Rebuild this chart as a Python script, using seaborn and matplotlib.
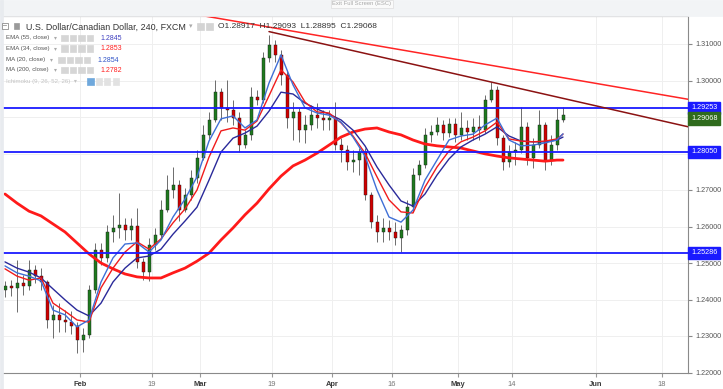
import numpy as np
import pandas as pd
import matplotlib
matplotlib.use("Agg")
import matplotlib.pyplot as plt
from matplotlib.patches import Rectangle
import seaborn as sns

# USD/CAD, trading days Jan 15 - May 24 2018 (one candle per day)
dates = pd.bdate_range("2018-01-15", "2018-05-24")

open_ = [1.2426, 1.2437, 1.2432, 1.2445, 1.2437, 1.2481, 1.2464, 1.2448, 1.2344, 1.2358,
         1.2344, 1.2338, 1.2327, 1.2289, 1.2303, 1.2426, 1.2536, 1.2514, 1.2585, 1.2596,
         1.2604, 1.2590, 1.2601, 1.2503, 1.2475, 1.2549, 1.2577, 1.2645, 1.2700, 1.2714,
         1.2645, 1.2686, 1.2733, 1.2788, 1.2851, 1.2892, 1.2968, 1.2925, 1.2919, 1.2897,
         1.2823, 1.2851, 1.2955, 1.2947, 1.3062, 1.3097, 1.3070, 1.3015, 1.2897, 1.2914,
         1.2864, 1.2878, 1.2905, 1.2897, 1.2892, 1.2897, 1.2823, 1.2810, 1.2777, 1.2782,
         1.2804, 1.2686, 1.2612, 1.2585, 1.2596, 1.2585, 1.2568, 1.2590, 1.2653, 1.2741,
         1.2768, 1.2851, 1.2859, 1.2878, 1.2856, 1.2881, 1.2851, 1.2870, 1.2859, 1.2873,
         1.2864, 1.2947, 1.2974, 1.2842, 1.2777, 1.2804, 1.2810, 1.2873, 1.2788, 1.2823,
         1.2878, 1.2782, 1.2823, 1.2892]
high = [1.2451, 1.2453, 1.2508, 1.2467, 1.2508, 1.2495, 1.2486, 1.2453, 1.2385, 1.2390,
        1.2371, 1.2368, 1.2338, 1.2322, 1.2440, 1.2555, 1.2555, 1.2604, 1.2632, 1.2692,
        1.2623, 1.2623, 1.2651, 1.2514, 1.2568, 1.2596, 1.2673, 1.2741, 1.2763, 1.2727,
        1.2705, 1.2755, 1.2810, 1.2878, 1.2914, 1.3001, 1.2979, 1.3001, 1.2947, 1.2914,
        1.2864, 1.2982, 1.2974, 1.3078, 1.3125, 1.3111, 1.3084, 1.3029, 1.2941, 1.2925,
        1.2905, 1.2933, 1.2938, 1.2919, 1.2919, 1.2941, 1.2842, 1.2823, 1.2810, 1.2815,
        1.2815, 1.2695, 1.2632, 1.2623, 1.2618, 1.2612, 1.2604, 1.2673, 1.2760, 1.2782,
        1.2870, 1.2878, 1.2900, 1.2892, 1.2897, 1.2897, 1.2914, 1.2892, 1.2897, 1.2905,
        1.2960, 1.2996, 1.2985, 1.2851, 1.2823, 1.2832, 1.2927, 1.2886, 1.2842, 1.2919,
        1.2886, 1.2851, 1.2925, 1.2927]
low = [1.2407, 1.2410, 1.2366, 1.2412, 1.2426, 1.2445, 1.2426, 1.2322, 1.2295, 1.2311,
       1.2311, 1.2305, 1.2253, 1.2256, 1.2295, 1.2418, 1.2495, 1.2503, 1.2558, 1.2568,
       1.2563, 1.2563, 1.2486, 1.2453, 1.2451, 1.2536, 1.2568, 1.2640, 1.2678, 1.2615,
       1.2640, 1.2673, 1.2719, 1.2782, 1.2837, 1.2886, 1.2892, 1.2886, 1.2878, 1.2804,
       1.2815, 1.2837, 1.2933, 1.2938, 1.3051, 1.3051, 1.2988, 1.2870, 1.2837, 1.2832,
       1.2829, 1.2864, 1.2870, 1.2864, 1.2864, 1.2810, 1.2777, 1.2755, 1.2749, 1.2741,
       1.2673, 1.2596, 1.2558, 1.2558, 1.2563, 1.2549, 1.2530, 1.2577, 1.2640, 1.2727,
       1.2760, 1.2832, 1.2851, 1.2837, 1.2845, 1.2832, 1.2837, 1.2837, 1.2837, 1.2837,
       1.2856, 1.2941, 1.2823, 1.2755, 1.2763, 1.2768, 1.2801, 1.2768, 1.2760, 1.2815,
       1.2755, 1.2768, 1.2810, 1.2886]
close = [1.2437, 1.2432, 1.2445, 1.2437, 1.2481, 1.2464, 1.2448, 1.2344, 1.2358, 1.2344,
         1.2338, 1.2327, 1.2289, 1.2303, 1.2426, 1.2536, 1.2514, 1.2585, 1.2596, 1.2604,
         1.2590, 1.2601, 1.2503, 1.2475, 1.2549, 1.2577, 1.2645, 1.2700, 1.2714, 1.2645,
         1.2686, 1.2733, 1.2788, 1.2851, 1.2892, 1.2968, 1.2925, 1.2919, 1.2897, 1.2823,
         1.2851, 1.2955, 1.2947, 1.3062, 1.3097, 1.3070, 1.3015, 1.2897, 1.2914, 1.2864,
         1.2878, 1.2905, 1.2897, 1.2892, 1.2897, 1.2823, 1.2810, 1.2777, 1.2782, 1.2804,
         1.2686, 1.2612, 1.2585, 1.2596, 1.2585, 1.2568, 1.2590, 1.2653, 1.2741, 1.2768,
         1.2851, 1.2859, 1.2878, 1.2856, 1.2881, 1.2851, 1.2870, 1.2859, 1.2873, 1.2864,
         1.2947, 1.2974, 1.2842, 1.2777, 1.2804, 1.2810, 1.2873, 1.2788, 1.2823, 1.2878,
         1.2782, 1.2823, 1.2892, 1.29068]

# indicator lines, read every second trading day plus the last one
ma_dates = dates[::2].append(dates[-1:])
ma20 = [1.2492, 1.2473, 1.2464, 1.2451, 1.2371, 1.2358, 1.2325, 1.2344, 1.2448, 1.2514,
        1.2552, 1.2555, 1.2530, 1.2563, 1.2626, 1.2675, 1.2736, 1.2834, 1.2895, 1.2903,
        1.2870, 1.2892, 1.2993, 1.3070, 1.2988, 1.2925, 1.2911, 1.2905, 1.2886, 1.2845,
        1.2793, 1.2700, 1.2626, 1.2612, 1.2645, 1.2727, 1.2782, 1.2837, 1.2848, 1.2853,
        1.2878, 1.2897, 1.2837, 1.2821, 1.2823, 1.2829, 1.2837, 1.2854]
ema34 = [1.2484, 1.2464, 1.2453, 1.2459, 1.2390, 1.2368, 1.2344, 1.2338, 1.2432, 1.2486,
         1.2530, 1.2558, 1.2538, 1.2566, 1.2610, 1.2648, 1.2700, 1.2790, 1.2862, 1.2870,
         1.2864, 1.2889, 1.2958, 1.3029, 1.2996, 1.2941, 1.2914, 1.2911, 1.2884, 1.2848,
         1.2801, 1.2736, 1.2673, 1.2640, 1.2637, 1.2708, 1.2763, 1.2807, 1.2832, 1.2845,
         1.2862, 1.2886, 1.2840, 1.2834, 1.2832, 1.2834, 1.2840, 1.2853]
ema55 = [1.2503, 1.2486, 1.2475, 1.2459, 1.2429, 1.2399, 1.2371, 1.2355, 1.2390, 1.2448,
         1.2486, 1.2514, 1.2519, 1.2538, 1.2579, 1.2615, 1.2653, 1.2727, 1.2804, 1.2842,
         1.2856, 1.2875, 1.2916, 1.2968, 1.2963, 1.2938, 1.2922, 1.2908, 1.2892, 1.2864,
         1.2821, 1.2763, 1.2714, 1.2670, 1.2656, 1.2689, 1.2741, 1.2785, 1.2818, 1.2837,
         1.2853, 1.2873, 1.2848, 1.2834, 1.2832, 1.2832, 1.2837, 1.2845]
ma200 = [1.2689, 1.2664, 1.2642, 1.2629, 1.2607, 1.2585, 1.2555, 1.2525, 1.2500, 1.2484,
         1.2470, 1.2462, 1.2459, 1.2459, 1.2473, 1.2486, 1.2505, 1.2527, 1.2563, 1.2596,
         1.2632, 1.2664, 1.2703, 1.2738, 1.2766, 1.2782, 1.2801, 1.2823, 1.2845, 1.2859,
         1.2867, 1.2870, 1.2859, 1.2851, 1.2837, 1.2826, 1.2821, 1.2818, 1.2815, 1.2807,
         1.2799, 1.2793, 1.2788, 1.2785, 1.2782, 1.2779, 1.2782, 1.2782]

levels = [1.29253, 1.28050, 1.25286]
last_price = 1.29068
trend_red_dates = ["2018-02-26", "2018-06-29"]
trend_red = [1.3186, 1.2934]
trend_dark_dates = ["2018-03-16", "2018-06-29"]
trend_dark = [1.3134, 1.2854]

tick_dates = ["2018-02-01", "2018-02-19", "2018-03-01", "2018-03-19", "2018-04-02",
              "2018-04-16", "2018-05-01", "2018-05-14", "2018-06-01", "2018-06-18"]
tick_labels = ["Feb", "19", "Mar", "19", "Apr", "16", "May", "14", "Jun", "18"]
price_ticks = [1.22, 1.23, 1.24, 1.25, 1.26, 1.27, 1.28, 1.29, 1.30, 1.31]
# these two scale labels sit under the price tags and are hidden there
hidden_ticks = [1.28, 1.29]


def tpos(d):
    # position on the x axis = trading days since Feb 1 (weekends skipped)
    d = np.asarray(pd.to_datetime(d)).astype("datetime64[D]")
    return np.busday_count(np.datetime64("2018-02-01"), d)


sns.set_style("white")
plt.rcParams["font.family"] = ["Liberation Sans", "DejaVu Sans"]

W, H = 723, 389
fig = plt.figure(figsize=(W / 100, H / 100), dpi=100)
ax = fig.add_axes([3 / W, (H - 373) / H, 685 / W, 357 / H])

# candles
x = tpos(dates) + 0.5
o, h, l, c = map(np.array, (open_, high, low, close))
up = c >= o
ax.vlines(x, l, h, color="#555555", lw=0.6, zorder=2)
ax.bar(x[up], (c - o)[up], bottom=o[up], width=0.5, color="#1f7a1f",
       edgecolor="#1a1a1a", lw=0.3, zorder=2.5)
ax.bar(x[~up], (o - c)[~up], bottom=c[~up], width=0.5, color="#d00000",
       edgecolor="#1a1a1a", lw=0.3, zorder=2.5)

# moving averages
ma_df = pd.DataFrame({"x": tpos(ma_dates) + 0.5, "ma20": ma20, "ema34": ema34,
                      "ema55": ema55, "ma200": ma200})
for col, color, lw in [("ma200", "#ff1a1a", 2.0), ("ema55", "#2a2a9a", 1.0),
                       ("ema34", "#f01c1c", 1.0), ("ma20", "#3f6fd6", 1.0)]:
    sns.lineplot(data=ma_df, x="x", y=col, ax=ax, color=color, lw=lw,
                 estimator=None, legend=False, zorder=3)

# support / resistance and trend lines
for lv in levels:
    ax.axhline(lv, color="#1a1aff", lw=1.3, zorder=3)
sns.lineplot(x=tpos(trend_red_dates) + 0.5, y=trend_red, ax=ax, color="#ff2424",
             lw=1.1, estimator=None, zorder=4)
sns.lineplot(x=tpos(trend_dark_dates) + 0.5, y=trend_dark, ax=ax, color="#8b1212",
             lw=1.1, estimator=None, zorder=4)

ax.set_xlim(-77 / 6, 608 / 6)
ax.set_ylim(1.31 - 329 / 3650, 1.31 + 28 / 3650)
ax.set_xlabel("")
ax.set_ylabel("")

ax.set_xticks(tpos(tick_dates))
ax.set_xticklabels(tick_labels)
for lab in ax.get_xticklabels():
    if lab.get_text().isalpha():
        lab.set_fontweight("bold")
        lab.set_color("#3a3a3a")
    else:
        lab.set_color("#777777")
ax.set_yticks(price_ticks)
ax.set_yticklabels(["" if p in hidden_ticks else f"{p:.5f}" for p in price_ticks])
ax.yaxis.tick_right()
ax.tick_params(axis="y", labelsize=5.2, labelcolor="#555555", color="#888888",
               length=3, pad=2, right=True)
ax.tick_params(axis="x", labelsize=5.4, color="#999999", length=3, pad=3, bottom=True)
ax.grid(True, color="#efefef", lw=0.7)
ax.set_axisbelow(True)
for side in ["top", "right", "bottom"]:
    ax.spines[side].set_color("#8a8a8a")
    ax.spines[side].set_linewidth(0.8)
ax.spines["left"].set_visible(False)

# price tags on the right axis
for lv in levels:
    ax.annotate(f"{lv:.5f}", xy=(1, lv), xycoords=("axes fraction", "data"),
                xytext=(3, 0), textcoords="offset pixels", ha="left", va="center",
                fontsize=5.2, color="white", annotation_clip=False,
                bbox=dict(boxstyle="square,pad=0.35", fc="#1a1aff", ec="#1a1aff"))
ax.annotate(f"{last_price:.5f}", xy=(1, last_price), xycoords=("axes fraction", "data"),
            xytext=(3, -4), textcoords="offset pixels", ha="left", va="center",
            fontsize=5.2, color="white", annotation_clip=False,
            bbox=dict(boxstyle="square,pad=0.35", fc="#2f6b1d", ec="#2f6b1d"))


def ftext(px, py, s, **kw):
    fig.text(px / W, 1 - py / H, s, va="center", **kw)


def fbox(px, py, w, hh, fc, ec=None, z=1):
    fig.add_artist(Rectangle((px / W, 1 - (py + hh) / H), w / W, hh / H,
                             transform=fig.transFigure, fc=fc, ec=ec or fc, lw=0.5, zorder=z))


# window chrome
fbox(0, 0, W, 15.5, "#f2f4f6")
fbox(0, 0, 3, H, "#e8ebef")
ftext(362, 4, "Exit Full Screen (ESC)", fontsize=4.2, color="#a8a8a8", ha="center",
      bbox=dict(boxstyle="square,pad=0.3", fc="#fafafa", ec="#dddddd", lw=0.5))

# header
fbox(2, 23, 6, 6, "white", "#777777", z=3)
ftext(3.3, 26.2, "–", fontsize=5, color="#555555")
fbox(14, 23, 5, 6, "#9a9a9a", z=3)
ftext(26, 27, "U.S. Dollar/Canadian Dollar, 240, FXCM", fontsize=6.4, color="#333333")
ftext(189, 27, "▾", fontsize=5, color="#aaaaaa")
fbox(197, 23, 7, 7, "#d4d4d4", z=3)
fbox(206, 23, 7, 7, "#d4d4d4", z=3)
ftext(218, 27, "O1.28917  H1.29093  L1.28895  C1.29068", fontsize=6, color="#333333")

rows = [("EMA (55, close)", "1.2845", "#4040c0", 38, 54, 61, 100),
        ("EMA (34, close)", "1.2853", "#ff2020", 48.5, 54, 61, 100),
        ("MA (20, close)", "1.2854", "#3356c8", 60, 50, 58, 97),
        ("MA (200, close)", "1.2782", "#ff2020", 70, 54, 61, 100)]
for name, val, vcol, ry, arrow_x, icon_x, val_x in rows:
    ftext(6, ry, name, fontsize=4.4, color="#555555")
    ftext(arrow_x, ry, "▾", fontsize=4.2, color="#aaaaaa")
    for k in range(4):
        fbox(icon_x + 8.5 * k, ry - 3.3, 6.5, 6.5, "#d6d6d6", z=3)
    ftext(val_x, ry, val, fontsize=5, color=vcol)
ftext(6, 81.5, "Ichimoku (9, 26, 52, 26)  ▾", fontsize=4.4, color="#c4c4c4")
fbox(87, 78, 6.5, 6.5, "#6fa8dc", z=3)
for k in range(1, 4):
    fbox(87 + 8.5 * k, 78, 6.5, 6.5, "#e2e2e2", z=3)

fig.savefig("out.png", dpi=100, facecolor="white")
